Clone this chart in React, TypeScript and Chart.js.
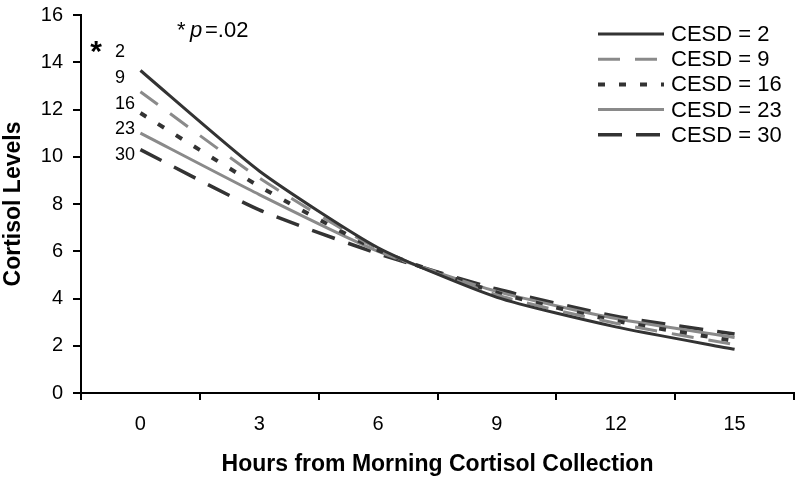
import React, { useEffect, useRef } from "react";
import { Chart, registerables } from "chart.js";

Chart.register(...registerables);

// ---- data ----
const hours = ["0", "3", "6", "9", "12", "15"];
const cesdLevels = [2, 9, 16, 23, 30];
const cesd2 = [13.65, 9.4, 6.15, 4.05, 2.8, 1.85];
const cesd9 = [12.75, 9.1, 6.1, 4.15, 2.95, 2.05];
const cesd16 = [11.85, 8.75, 6.05, 4.25, 3.05, 2.2];
const cesd23 = [11.0, 8.4, 6.0, 4.3, 3.15, 2.35];
const cesd30 = [10.3, 7.75, 5.9, 4.4, 3.25, 2.5];
const seriesValues = [cesd2, cesd9, cesd16, cesd23, cesd30];
const yMin = 0;
const yMax = 16;
const yStep = 2;
const pValue = ".02";

// ---- styles ----
const DARK = "#333333";
const GRAY = "#8a8a8a";
const seriesStyles = [
  { color: DARK, width: 3, dash: [] as number[] },
  { color: GRAY, width: 3, dash: [22, 15] },
  { color: DARK, width: 4, dash: [7, 14] },
  { color: GRAY, width: 3, dash: [] as number[] },
  { color: DARK, width: 3.5, dash: [24, 14] },
];
const FONT = "'Liberation Sans', Arial, sans-serif";

const overlayPlugin = {
  id: "overlay",
  afterDraw(chart: any) {
    const ctx = chart.ctx as CanvasRenderingContext2D;
    ctx.save();
    // legend
    const legX0 = 598;
    const legX1 = 664;
    const legY0 = 34;
    const legDy = 25.2;
    chart.data.datasets.forEach((ds: any, i: number) => {
      const y = legY0 + i * legDy;
      ctx.beginPath();
      ctx.strokeStyle = ds.borderColor;
      ctx.lineWidth = ds.borderWidth;
      ctx.setLineDash(ds.borderDash || []);
      ctx.lineCap = "butt";
      ctx.moveTo(legX0, y);
      ctx.lineTo(legX1, y);
      ctx.stroke();
      ctx.setLineDash([]);
      ctx.fillStyle = "#000";
      ctx.font = `22px ${FONT}`;
      ctx.textAlign = "left";
      ctx.textBaseline = "middle";
      ctx.fillText(ds.label, 671, y + 1);
    });

    // significance note
    ctx.fillStyle = "#000";
    ctx.textBaseline = "alphabetic";
    ctx.textAlign = "left";
    ctx.font = `22px ${FONT}`;
    ctx.fillText("*", 177, 37);
    ctx.font = `italic 22px ${FONT}`;
    ctx.fillText("p", 190, 37);
    ctx.font = `22px ${FONT}`;
    ctx.fillText("=" + pValue, 205, 37);

    // star + level labels at start of lines
    ctx.font = `bold 30px ${FONT}`;
    ctx.textAlign = "center";
    ctx.fillText("*", 96, 61);
    ctx.font = `18px ${FONT}`;
    ctx.textAlign = "left";
    ctx.textBaseline = "middle";
    cesdLevels.forEach((lv, i) => {
      ctx.fillText(String(lv), 115, 52 + i * 25.8);
    });
    ctx.restore();
  },
};

export default function App() {
  const ref = useRef<HTMLCanvasElement>(null);
  useEffect(() => {
    Chart.defaults.font.family = FONT;
    const chart = new Chart(ref.current as HTMLCanvasElement, {
      type: "line",
      data: {
        labels: hours,
        datasets: seriesValues.map((vals, i) => ({
          label: `CESD = ${cesdLevels[i]}`,
          data: vals,
          borderColor: seriesStyles[i].color,
          backgroundColor: seriesStyles[i].color,
          borderWidth: seriesStyles[i].width,
          borderDash: seriesStyles[i].dash,
          pointRadius: 0,
          tension: 0.2,
          fill: false,
        })),
      },
      options: {
        responsive: false,
        animation: false,
        layout: { padding: { top: 15, right: 6, left: 0, bottom: 0 } },
        plugins: {
          legend: { display: false },
          tooltip: { enabled: false },
        },
        scales: {
          x: {
            type: "category",
            offset: true,
            grid: {
              offset: true,
              drawOnChartArea: false,
              drawTicks: true,
              tickLength: 7,
              color: "#000",
              lineWidth: 2,
            },
            border: { display: true, color: "#000", width: 2 },
            ticks: { color: "#000", font: { size: 20 }, padding: 12, maxRotation: 0 },
            title: {
              display: true,
              text: "Hours from Morning Cortisol Collection",
              color: "#000",
              font: { size: 23, weight: "bold" },
              padding: { top: 3, bottom: 3 },
            },
            afterFit: (s: any) => {
              s.height = 88;
              s.paddingLeft = 0;
              s.paddingRight = 0;
            },
          },
          y: {
            min: yMin,
            max: yMax,
            grid: {
              drawOnChartArea: false,
              drawTicks: true,
              tickLength: 8,
              color: "#000",
              lineWidth: 2,
            },
            border: { display: true, color: "#000", width: 2 },
            ticks: { stepSize: yStep, color: "#000", font: { size: 20 }, padding: 10 },
            title: {
              display: true,
              text: "Cortisol Levels",
              color: "#000",
              font: { size: 23, weight: "bold" },
              padding: { top: 0, bottom: 0 },
            },
            afterFit: (s: any) => {
              s.width = 81;
              s.paddingTop = 0;
              s.paddingBottom = 0;
            },
          },
        },
      } as any,
      plugins: [overlayPlugin],
    });
    return () => chart.destroy();
  }, []);
  return (
    <div style={{ position: "fixed", left: 0, top: 0, width: 800, height: 481, background: "#fff" }}>
      <canvas ref={ref} width={800} height={481} style={{ display: "block", width: 800, height: 481 }} />
    </div>
  );
}
